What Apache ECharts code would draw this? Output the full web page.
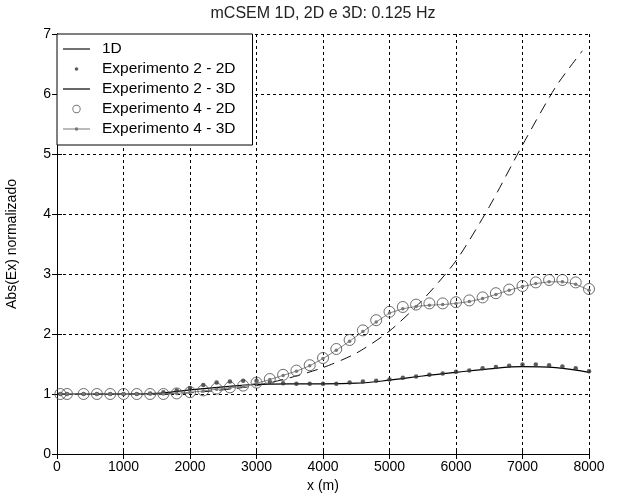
<!DOCTYPE html>
<html>
<head>
<meta charset="utf-8">
<script src="https://cdn.jsdelivr.net/npm/echarts@6/dist/echarts.min.js"></script>
<style>
  html, body { margin: 0; padding: 0; background: #fff; }
  #chart { width: 617px; height: 496px; }
</style>
</head>
<body>
<div id="chart"></div>
<script>
// 1D reference curve
const x1D = [0, 1000, 1500, 2000, 2500, 3000, 3500, 4000, 4500, 5000, 5500, 6000, 6500, 7000, 7500, 7900]
const y1D = [1.0, 1.0, 1.0, 1.02, 1.07, 1.14, 1.27, 1.44, 1.68, 2.05, 2.57, 3.22, 4.12, 5.15, 6.12, 6.72]

// measured positions shared by the 2D runs and experiment 4 - 3D
const xMeas = [50, 150, 400, 600, 800, 1000, 1200, 1400, 1600, 1800, 2000, 2200, 2400, 2600, 2800,
  3000, 3200, 3400, 3600, 3800, 4000, 4200, 4400, 4600, 4800, 5000, 5200, 5400, 5600, 5800,
  6000, 6200, 6400, 6600, 6800, 7000, 7200, 7400, 7600, 7800, 8000]

const exp2D2 = [1.0, 1.0, 1.0, 1.0, 1.0, 1.0, 1.0, 1.01, 1.03, 1.06, 1.1, 1.15, 1.19, 1.21, 1.22,
  1.22, 1.2, 1.18, 1.17, 1.17, 1.17, 1.17, 1.19, 1.21, 1.22, 1.24, 1.27, 1.29, 1.32, 1.34,
  1.37, 1.39, 1.43, 1.45, 1.47, 1.49, 1.49, 1.48, 1.46, 1.43, 1.38]

const exp4D2 = [1.0, 1.0, 1.0, 1.0, 1.0, 1.0, 1.0, 1.0, 1.0, 1.01, 1.03, 1.06, 1.09, 1.11, 1.14,
  1.19, 1.25, 1.32, 1.39, 1.48, 1.6, 1.75, 1.9, 2.06, 2.23, 2.37, 2.45, 2.49, 2.51, 2.51,
  2.53, 2.56, 2.61, 2.68, 2.74, 2.8, 2.86, 2.9, 2.9, 2.86, 2.75]

const exp4D3 = [1.0, 1.0, 1.0, 1.0, 1.0, 1.0, 1.0, 1.0, 1.0, 1.01, 1.03, 1.05, 1.08, 1.1, 1.13,
  1.18, 1.24, 1.31, 1.38, 1.47, 1.59, 1.73, 1.88, 2.04, 2.2, 2.35, 2.42, 2.46, 2.48, 2.49,
  2.51, 2.54, 2.59, 2.66, 2.73, 2.79, 2.84, 2.87, 2.87, 2.83, 2.73]

// experiment 2 - 3D curve
const xExp2D3 = [0, 500, 1000, 1500, 2000, 2500, 3000, 3500, 4000, 4500, 5000, 5500, 6000, 6500, 7000, 7500, 8000]
const exp2D3 = [1.0, 1.0, 1.0, 1.01, 1.07, 1.12, 1.16, 1.17, 1.17, 1.18, 1.23, 1.3, 1.36, 1.42, 1.455, 1.44, 1.36]

const seriesNames = ['1D', 'Experimento 2 - 2D', 'Experimento 2 - 3D', 'Experimento 4 - 2D', 'Experimento 4 - 3D']

const zip = (xs, ys) => xs.map((x, i) => [x, ys[i]])

const FONT = 'Liberation Sans, Arial, sans-serif'

// legend icons (line / dot / ring), drawn in a 27x14 box
const iconLine = 'path://M0,-0.6 L27,-0.6 L27,0.6 L0,0.6 Z'
const iconDot = 'path://M0,-7 L0,-7 M27,7 L27,7 M15.3,0 A1.8,1.8 0 1 1 11.7,0 A1.8,1.8 0 1 1 15.3,0 Z'
const iconRing = 'path://M0,-7 L0,-7 M27,7 L27,7 M17.7,0 A4.2,4.2 0 1 1 9.3,0 A4.2,4.2 0 1 1 17.7,0 Z M16.7,0 A3.2,3.2 0 1 0 10.3,0 A3.2,3.2 0 1 0 16.7,0 Z'
const iconLineDot = 'path://M0,-0.5 L27,-0.5 L27,0.5 L0,0.5 Z M15.3,0 A1.8,1.8 0 1 1 11.7,0 A1.8,1.8 0 1 1 15.3,0 Z'

const chart = echarts.init(document.getElementById('chart'))

const gridLine = { show: true, lineStyle: { color: '#000', width: 1, type: [3, 3] } }
const boxLine = { show: true, lineStyle: { color: '#000', width: 1 } }
const innerTick = { show: true, inside: true, length: 5, lineStyle: { color: '#000' } }
const plainNum = v => String(v)

chart.setOption({
  animation: false,
  backgroundColor: '#fff',
  title: {
    text: 'mCSEM 1D, 2D e 3D: 0.125 Hz',
    left: 323,
    textAlign: 'center',
    top: 6,
    padding: 0,
    textStyle: { fontFamily: FONT, fontSize: 16, fontWeight: 'normal', color: '#222' }
  },
  grid: { left: 57, right: 28, top: 34, bottom: 42, containLabel: false, outerBoundsMode: 'none' },
  legend: {
    orient: 'vertical',
    left: 57,
    top: 34,
    padding: [7, 17, 8, 6],
    itemWidth: 27,
    itemHeight: 14,
    itemGap: 4,
    backgroundColor: '#fff',
    borderColor: '#000',
    borderWidth: 1,
    borderRadius: 0,
    itemStyle: { borderWidth: 0 },
    textStyle: { fontFamily: FONT, fontSize: 15.5, color: '#000', lineHeight: 15, padding: [0, 0, 0, 7] },
    data: [
      { name: seriesNames[0], icon: iconLine, itemStyle: { color: '#111' } },
      { name: seriesNames[1], icon: iconDot, itemStyle: { color: '#333' } },
      { name: seriesNames[2], icon: iconLine, itemStyle: { color: '#000' } },
      { name: seriesNames[3], icon: iconRing, itemStyle: { color: '#555' } },
      { name: seriesNames[4], icon: iconLineDot, itemStyle: { color: '#777' } }
    ]
  },
  xAxis: [
    {
      type: 'value',
      min: 0,
      max: 8000,
      interval: 1000,
      position: 'bottom',
      name: 'x (m)',
      nameLocation: 'middle',
      nameGap: 25,
      nameTextStyle: { fontFamily: FONT, fontSize: 14, color: '#000' },
      axisLine: boxLine,
      axisTick: innerTick,
      axisLabel: { fontFamily: FONT, fontSize: 14, color: '#000', margin: 6, formatter: plainNum },
      splitLine: gridLine
    },
    {
      type: 'value',
      min: 0,
      max: 8000,
      interval: 1000,
      position: 'top',
      axisLine: boxLine,
      axisTick: innerTick,
      axisLabel: { show: false },
      splitLine: { show: false }
    }
  ],
  yAxis: [
    {
      type: 'value',
      min: 0,
      max: 7,
      interval: 1,
      position: 'left',
      name: 'Abs(Ex) normalizado',
      nameLocation: 'middle',
      nameGap: 38,
      nameTextStyle: { fontFamily: FONT, fontSize: 14, color: '#000' },
      axisLine: boxLine,
      axisTick: innerTick,
      axisLabel: { fontFamily: FONT, fontSize: 14, color: '#000', margin: 6, formatter: plainNum },
      splitLine: gridLine
    },
    {
      type: 'value',
      min: 0,
      max: 7,
      interval: 1,
      position: 'right',
      axisLine: boxLine,
      axisTick: innerTick,
      axisLabel: { show: false },
      splitLine: { show: false }
    }
  ],
  series: [
    {
      name: seriesNames[0],
      type: 'line',
      data: zip(x1D, y1D),
      symbol: 'none',
      smooth: 0.25,
      itemStyle: { color: '#111' },
      lineStyle: { color: '#111', width: 1, type: [11, 7] },
      z: 3
    },
    {
      name: seriesNames[1],
      type: 'scatter',
      data: zip(xMeas, exp2D2),
      symbol: 'circle',
      symbolSize: 4.5,
      itemStyle: { color: '#333' },
      z: 3
    },
    {
      name: seriesNames[2],
      type: 'line',
      data: zip(xExp2D3, exp2D3),
      symbol: 'none',
      smooth: 0.4,
      itemStyle: { color: '#000' },
      lineStyle: { color: '#000', width: 1.2 },
      z: 3
    },
    {
      name: seriesNames[3],
      type: 'scatter',
      data: zip(xMeas, exp4D2),
      symbol: 'circle',
      symbolSize: 11,
      itemStyle: { color: 'rgba(0,0,0,0)', borderColor: '#4a4a4a', borderWidth: 1 },
      z: 3
    },
    {
      name: seriesNames[4],
      type: 'line',
      data: zip(xMeas, exp4D3),
      symbol: 'circle',
      symbolSize: 3.5,
      showSymbol: true,
      itemStyle: { color: '#777' },
      lineStyle: { color: '#888', width: 1 },
      z: 3
    }
  ]
})

window.addEventListener('resize', () => chart.resize())
</script>
</body>
</html>
